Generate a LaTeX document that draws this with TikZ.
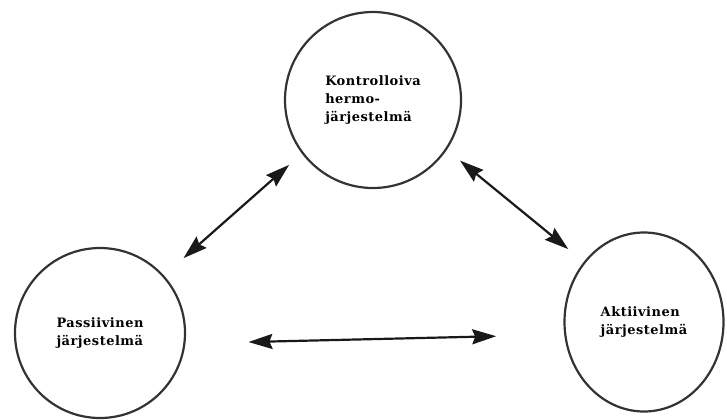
\documentclass[tikz,border=0pt]{standalone}
\usepackage{fontspec}
\setmainfont{DejaVu Serif}
\usetikzlibrary{arrows.meta,shapes.geometric}
\tikzset{
	osa/.style={circle, draw=black!80, line width=2.2bp, inner sep=0pt, align=left,
		font=\bfseries\fontsize{13}{18}\selectfont\addfontfeature{LetterSpace=4}},
	kaksinuoli/.style={line width=2.2bp, draw=black!90,
		{Stealth[length=24bp,width=15bp,inset=3bp]}-{Stealth[length=24bp,width=15bp,inset=3bp]}}
}

\begin{document}
\begin{tikzpicture}[x=1bp, y=-1bp]
			%%%%% START %%%%%
			
			\useasboundingbox (0, 0) rectangle (727, 419);
			
			\node[osa, minimum size=176bp] (hermo) at (373, 100) {Kontrolloiva\\hermo-\\järjestelmä};
			\node[osa, minimum size=170bp] (passiivi) at (100, 333) {Passiivinen\\järjestelmä};
			\node[osa, ellipse, minimum width=159bp, minimum height=179bp] (aktiivi) at (644, 322) {Aktiivinen\\järjestelmä};
			
			\draw[kaksinuoli, shorten <=26bp, shorten >=17bp] (passiivi.42) -- (hermo.217);
			\draw[kaksinuoli, shorten <=17bp, shorten >=20bp] (hermo.-34) -- (aktiivi.135);
			\draw[kaksinuoli, shorten <=63bp, shorten >=68bp] (passiivi.-7) -- (aktiivi.189);
			
			%%%%% END %%%%%
\end{tikzpicture}
\end{document}
